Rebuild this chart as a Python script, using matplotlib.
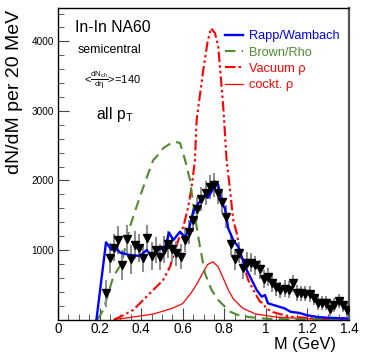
import numpy as np
import matplotlib
matplotlib.use("Agg")
import matplotlib.pyplot as plt
from matplotlib.ticker import MultipleLocator, FixedLocator

plt.rcParams['font.family'] = ['Liberation Sans', 'DejaVu Sans']
plt.rcParams['mathtext.fontset'] = 'custom'
plt.rcParams['mathtext.rm'] = 'Liberation Sans'
plt.rcParams['mathtext.it'] = 'Liberation Sans'
plt.rcParams['mathtext.bf'] = 'Liberation Sans:bold'

# ---- data points (NA60) ----
data_m = [0.23, 0.25, 0.27, 0.29, 0.31, 0.33, 0.35, 0.37, 0.39, 0.41,
          0.43, 0.45, 0.47, 0.49, 0.51, 0.53, 0.55, 0.57, 0.59, 0.61,
          0.63, 0.65, 0.67, 0.69, 0.71, 0.73, 0.75, 0.77, 0.79, 0.81,
          0.83, 0.85, 0.87, 0.89, 0.91, 0.93, 0.95, 0.97, 0.99, 1.01,
          1.03, 1.05, 1.07, 1.09, 1.11, 1.13, 1.15, 1.17, 1.19, 1.21,
          1.23, 1.25, 1.27, 1.29, 1.31, 1.33, 1.35, 1.37, 1.39]
data_y = [375, 880, 1035, 1145, 785, 1155, 865, 1070, 1025, 880,
          1165, 915, 1000, 895, 1005, 1080, 1010, 950, 905, 1145,
          1260, 1430, 1585, 1730, 1820, 1910, 1935, 1815, 1695, 1480,
          1085, 866, 960, 736, 817, 817, 780, 722, 579, 617,
          521, 463, 424, 445, 430, 521, 380, 377, 370, 367,
          305, 243, 240, 233, 150, 209, 271, 209, 137]
data_err = [190, 215, 200, 200, 210, 200, 210, 200, 200, 200,
            200, 200, 190, 190, 190, 190, 180, 180, 180, 180,
            170, 170, 170, 170, 170, 170, 170, 160, 160, 160,
            160, 150, 150, 150, 150, 140, 140, 140, 130, 130,
            130, 120, 120, 120, 120, 120, 110, 110, 110, 110,
            100, 100, 100, 100, 100, 100, 100, 100, 100]

# ---- Rapp/Wambach ----
rw_m = [0.185, 0.231, 0.258, 0.273, 0.30, 0.346, 0.394, 0.427, 0.45, 0.474,
        0.50, 0.515, 0.534, 0.555, 0.587, 0.611, 0.63, 0.651, 0.675, 0.707,
        0.72, 0.739, 0.755, 0.771, 0.787, 0.803, 0.819, 0.843, 0.867, 0.90,
        0.932, 0.956, 0.98, 0.996, 1.01, 1.052, 1.09, 1.12, 1.16, 1.2,
        1.25, 1.3, 1.35, 1.39]
rw_y = [0, 1110, 1000, 1040, 960, 928, 914, 1000, 903, 1000,
        1020, 1024, 1250, 1143, 1263, 1182, 1300, 1560, 1670, 1790,
        1750, 1840, 1985, 1934, 1670, 1600, 1311, 1143, 1047, 760,
        568, 424, 328, 352, 233, 195, 160, 110, 95, 60,
        35, 25, 20, 15]

# ---- Brown/Rho ----
br_m = [0.19, 0.218, 0.266, 0.306, 0.346, 0.394, 0.434, 0.458, 0.474, 0.506,
        0.554, 0.587, 0.611, 0.635, 0.659, 0.683, 0.707, 0.739, 0.771, 0.803,
        0.83, 0.87, 0.92, 1.0, 1.1, 1.4]
br_y = [0, 137, 615, 808, 1335, 1766, 2100, 2293, 2342, 2463,
        2558, 2540, 2295, 2007, 1478, 1047, 664, 424, 280, 184,
        110, 60, 35, 12, 3, 0]

# ---- Vacuum rho ----
vac_m = [0.27, 0.30, 0.362, 0.41, 0.458, 0.506, 0.539, 0.579, 0.603, 0.627,
         0.643, 0.659, 0.667, 0.699, 0.72, 0.736, 0.755, 0.771, 0.795, 0.811,
         0.827, 0.843, 0.86, 0.884, 0.915, 0.948, 0.972, 0.988, 1.0, 1.035,
         1.115, 1.24, 1.4]
vac_y = [0, 40, 137, 280, 424, 568, 760, 1143, 1335, 1623,
         1910, 2295, 2870, 3590, 4000, 4190, 4120, 3925, 3062, 2300,
         1880, 1431, 1240, 856, 568, 377, 256, 233, 160, 105,
         40, 15, 5]

# ---- cocktail rho ----
ck_m = [0.27, 0.36, 0.46, 0.55, 0.60, 0.64, 0.67, 0.70, 0.72, 0.745,
        0.77, 0.80, 0.82, 0.845, 0.89, 0.95, 1.05, 1.2, 1.4]
ck_y = [0, 35, 80, 160, 230, 380, 520, 690, 790, 830,
        760, 560, 420, 290, 160, 80, 35, 10, 3]

x_ticks = [0, 0.2, 0.4, 0.6, 0.8, 1.0, 1.2, 1.4]
x_ticklabels = ['0', '0.2', '0.4', '0.6', '0.8', '1', '1.2', '1.4']
y_ticks = [1000, 2000, 3000, 4000]

BLUE = '#0000ff'
GREEN = '#4d8c2d'
RED = '#ff0000'

W, H = 365, 360
fig = plt.figure(figsize=(W / 100, H / 100), dpi=100)
ax = fig.add_axes([58 / W, 1 - 319.5 / H, 291 / W, 311.5 / H])

ax.plot(ck_m, ck_y, color=RED, lw=0.9, label='cockt. \u03c1', zorder=2)
ax.plot(vac_m, vac_y, color=RED, lw=1.5, dashes=(5, 1.5, 1.2, 1.5, 1.2, 1.5),
        label='Vacuum \u03c1', zorder=2)
ax.plot(br_m, br_y, color=GREEN, lw=1.5, dashes=(5, 3), label='Brown/Rho', zorder=2)
ax.errorbar(data_m, data_y, yerr=data_err, fmt='none', ecolor='#8c8c8c',
            elinewidth=1.4, capsize=0, zorder=3)
ax.plot(rw_m, rw_y, color=BLUE, lw=1.7, label='Rapp/Wambach', zorder=4)
ax.plot(data_m, data_y, linestyle='none', marker='v', color='black',
        markersize=6.3, zorder=5)

ax.set_xlim(0, 1.4)
ax.set_ylim(0, 4480)
ax.xaxis.set_major_locator(FixedLocator(x_ticks))
ax.set_xticklabels(x_ticklabels)
ax.xaxis.set_minor_locator(MultipleLocator(0.05))
ax.yaxis.set_major_locator(FixedLocator(y_ticks))
ax.yaxis.set_minor_locator(MultipleLocator(200))
ax.tick_params(axis='both', which='both', direction='in', top=False, right=False,
               color='#444444')
ax.tick_params(axis='x', which='major', length=9, labelsize=9.8, pad=1.5)
ax.tick_params(axis='x', which='minor', length=4.5)
ax.tick_params(axis='y', which='major', length=8, labelsize=7.2, pad=3)
ax.tick_params(axis='y', which='minor', length=4)
for s in ax.spines.values():
    s.set_linewidth(1.0)
    s.set_color('black')
ax.spines['right'].set_color('#555555')
ax.spines['right'].set_linewidth(1.6)

ax.set_ylabel('dN/dM per 20 MeV', fontsize=14)
ax.yaxis.set_label_coords(-0.148, 0.995)
ax.yaxis.label.set_ha('right')
ax.yaxis.label.set_va('center')
ax.set_xlabel('M (GeV)', fontsize=11.7)
ax.xaxis.set_label_coords(0.955, -0.08)
ax.xaxis.label.set_ha('right')
ax.xaxis.label.set_va('center')

def fx(px):
    return (px - 58) / 291
def fy(py):
    return (319.5 - py) / 311.5

ax.text(fx(75), fy(28), 'In-In NA60', transform=ax.transAxes, fontsize=11.3,
        ha='left', va='center')
ax.text(fx(78), fy(50), 'semicentral', transform=ax.transAxes, fontsize=8.9,
        ha='left', va='center')
ax.text(fx(84), fy(81), r'<$\frac{\mathrm{dN_{ch}}}{\mathrm{d\eta}}$>=140',
        transform=ax.transAxes, fontsize=8, ha='left', va='center')
ax.text(fx(96), fy(115), r'all p$_\mathrm{T}$', transform=ax.transAxes,
        fontsize=11.3, ha='left', va='center')

handles, labels = ax.get_legend_handles_labels()
order = [3, 2, 1, 0]
leg = ax.legend([handles[i] for i in order], [labels[i] for i in order],
                loc='upper left', bbox_to_anchor=(fx(225), fy(30.5)),
                frameon=False, fontsize=9.2, handlelength=1.4,
                handletextpad=0.45, labelspacing=0.33, borderpad=0,
                borderaxespad=0)
for t, c in zip(leg.get_texts(), [BLUE, GREEN, RED, RED]):
    t.set_color(c)

fig.savefig('out.png', dpi=100)
